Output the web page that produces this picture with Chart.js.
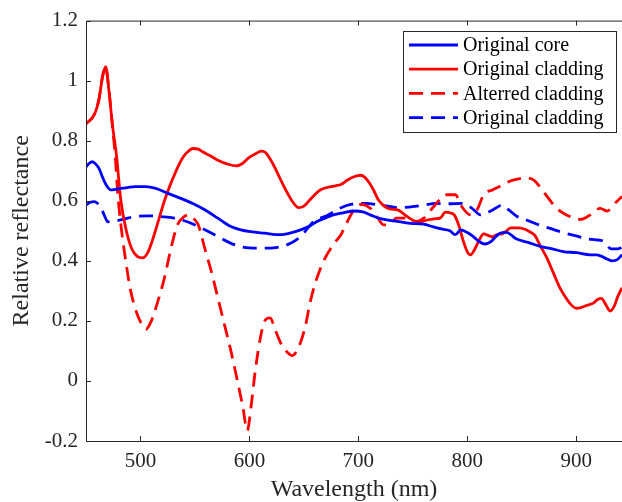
<!DOCTYPE html>
<html>
<head>
<meta charset="utf-8">
<script src="https://cdn.jsdelivr.net/npm/chart.js@4/dist/chart.umd.min.js"></script>
<style>
html, body { margin: 0; padding: 0; background: #fff; overflow: hidden; }
</style>
</head>
<body>
<canvas id="spectra-chart" width="622" height="502"></canvas>
<script>
// Reflectance spectra (wavelength in nm, relative reflectance)

const xTickValues = [500, 600, 700, 800, 900];

const coreX = [450, 453, 456, 459, 462, 465, 467, 470, 473, 477, 482, 488, 495, 505, 514, 525, 537, 548, 559, 571, 583, 592, 601, 614, 628, 638, 647, 655, 662, 670, 677, 686, 696, 705, 711, 717, 725, 732, 740, 748, 760, 768, 775, 784, 789, 794, 800, 805, 809, 816, 822, 826, 830, 836, 840, 844, 850, 855, 867, 878, 888, 900, 913, 919, 926, 933, 938, 942];
const coreY = [0.712, 0.725, 0.73, 0.722, 0.707, 0.68, 0.663, 0.645, 0.636, 0.638, 0.641, 0.644, 0.647, 0.647, 0.641, 0.625, 0.608, 0.591, 0.57, 0.542, 0.514, 0.503, 0.497, 0.492, 0.487, 0.493, 0.503, 0.515, 0.531, 0.543, 0.553, 0.56, 0.566, 0.562, 0.553, 0.544, 0.537, 0.533, 0.529, 0.525, 0.522, 0.514, 0.507, 0.5, 0.487, 0.503, 0.494, 0.482, 0.47, 0.456, 0.465, 0.48, 0.492, 0.495, 0.487, 0.475, 0.467, 0.462, 0.448, 0.44, 0.431, 0.427, 0.42, 0.42, 0.41, 0.4, 0.405, 0.42];

const claddingX = [450, 458, 462, 465, 468, 471, 474, 478, 482, 487, 492, 497, 502, 507, 512, 517, 522, 527, 531, 536, 540, 544, 548, 553, 557, 564, 571, 580, 588, 594, 599, 605, 611, 615, 622, 628, 635, 640, 645, 650, 654, 660, 665, 672, 679, 684, 690, 696, 702, 706, 710, 714, 718, 722, 726, 730, 736, 741, 745, 750, 754, 758, 763, 770, 775, 780, 784, 788, 792, 796, 800, 803, 807, 811, 815, 819, 823, 828, 832, 836, 840, 847, 853, 858, 862, 867, 873, 879, 885, 890, 895, 900, 905, 910, 916, 920, 923, 927, 931, 935, 938, 942];
const claddingY = [0.856, 0.89, 0.94, 1.01, 1.047, 0.97, 0.86, 0.75, 0.6, 0.5, 0.44, 0.415, 0.41, 0.43, 0.48, 0.54, 0.6, 0.65, 0.685, 0.725, 0.75, 0.765, 0.774, 0.772, 0.763, 0.75, 0.735, 0.722, 0.716, 0.725, 0.742, 0.755, 0.765, 0.76, 0.72, 0.675, 0.625, 0.595, 0.577, 0.582, 0.597, 0.62, 0.636, 0.645, 0.65, 0.654, 0.669, 0.68, 0.685, 0.678, 0.66, 0.635, 0.605, 0.588, 0.577, 0.572, 0.57, 0.558, 0.547, 0.535, 0.525, 0.53, 0.536, 0.54, 0.542, 0.562, 0.56, 0.553, 0.52, 0.47, 0.43, 0.42, 0.44, 0.47, 0.49, 0.485, 0.48, 0.488, 0.49, 0.5, 0.51, 0.51, 0.505, 0.495, 0.485, 0.45, 0.41, 0.36, 0.31, 0.28, 0.255, 0.242, 0.245, 0.252, 0.26, 0.272, 0.275, 0.255, 0.233, 0.25, 0.28, 0.31];

const alteredX = [450, 458, 462, 465, 468, 471, 474, 477, 479, 482, 487, 491, 497, 501, 505, 510, 516, 522, 528, 534, 540, 545, 549, 553, 559, 565, 571, 577, 583, 589, 594, 598, 602, 605, 608, 612, 615, 619, 624, 630, 635, 639, 645, 651, 656, 661, 668, 677, 684, 690, 696, 703, 711, 718, 723, 728, 735, 745, 754, 760, 769, 775, 780, 789, 795, 803, 809, 815, 823, 832, 839, 846, 853, 861, 870, 882, 891, 904, 913, 922, 928, 937, 942];
const alteredY = [0.856, 0.89, 0.94, 1.01, 1.047, 0.97, 0.86, 0.74, 0.63, 0.52, 0.387, 0.3, 0.222, 0.19, 0.172, 0.2, 0.266, 0.343, 0.442, 0.52, 0.547, 0.553, 0.54, 0.52, 0.442, 0.365, 0.277, 0.189, 0.1, 0.0, -0.087, -0.165, -0.07, 0.023, 0.1, 0.177, 0.205, 0.21, 0.167, 0.117, 0.095, 0.084, 0.111, 0.177, 0.266, 0.332, 0.398, 0.454, 0.487, 0.531, 0.57, 0.588, 0.575, 0.542, 0.52, 0.52, 0.542, 0.542, 0.531, 0.542, 0.58, 0.605, 0.62, 0.62, 0.58, 0.553, 0.57, 0.62, 0.636, 0.652, 0.665, 0.672, 0.676, 0.669, 0.63, 0.575, 0.553, 0.538, 0.553, 0.575, 0.566, 0.597, 0.614];

const cladding2X = [450, 454, 458, 461, 464, 467, 470, 475, 482, 494, 507, 519, 531, 543, 556, 571, 586, 600, 614, 624, 635, 647, 659, 671, 683, 693, 706, 723, 738, 757, 772, 785, 795, 800, 806, 812, 819, 826, 832, 838, 846, 855, 864, 876, 888, 900, 910, 918, 925, 932, 938, 942];
const cladding2Y = [0.586, 0.595, 0.597, 0.59, 0.575, 0.55, 0.53, 0.532, 0.536, 0.547, 0.55, 0.547, 0.542, 0.53, 0.509, 0.481, 0.454, 0.443, 0.442, 0.444, 0.454, 0.481, 0.531, 0.55, 0.575, 0.588, 0.591, 0.584, 0.577, 0.584, 0.591, 0.59, 0.591, 0.586, 0.57, 0.553, 0.562, 0.575, 0.586, 0.57, 0.547, 0.535, 0.522, 0.508, 0.494, 0.483, 0.473, 0.47, 0.465, 0.44, 0.44, 0.445];

const seriesLabels = ['Original core', 'Original cladding', 'Alterred cladding', 'Original cladding'];

const serif = '"Liberation Serif", "Times New Roman", serif';
const axisColor = '#262626';
const dash = [14, 8];

function toPoints(xs, ys) {
    return xs.map((x, i) => ({ x: x, y: ys[i] }));
}

// MATLAB-style box with inward ticks
const boxTicks = {
    id: 'boxTicks',
    afterDraw(chart) {
        const ctx = chart.ctx;
        const a = chart.chartArea;
        const xs = chart.scales.x;
        const ys = chart.scales.y;
        ctx.save();
        ctx.strokeStyle = axisColor;
        ctx.lineWidth = 1;
        ctx.beginPath();
        ctx.moveTo(a.left + 0.5, a.top + 0.5);
        ctx.lineTo(a.left + 0.5, a.bottom + 0.5);
        ctx.lineTo(a.right, a.bottom + 0.5);
        ctx.moveTo(a.left + 0.5, a.top + 0.5);
        ctx.lineTo(a.right, a.top + 0.5);
        xs.ticks.forEach(t => {
            const px = Math.round(xs.getPixelForValue(t.value)) + 0.5;
            ctx.moveTo(px, a.bottom);
            ctx.lineTo(px, a.bottom - 5);
            ctx.moveTo(px, a.top);
            ctx.lineTo(px, a.top + 5);
        });
        ys.ticks.forEach(t => {
            const py = Math.round(ys.getPixelForValue(t.value)) + 0.5;
            ctx.moveTo(a.left, py);
            ctx.lineTo(a.left + 5, py);
        });
        ctx.stroke();
        ctx.restore();
    }
};

// Legend box in the top right corner
const boxLegend = {
    id: 'boxLegend',
    afterDraw(chart) {
        const ctx = chart.ctx;
        const left = 403.5, top = 31.5, w = 213, h = 101;
        ctx.save();
        ctx.fillStyle = '#fff';
        ctx.fillRect(left, top, w, h);
        ctx.strokeStyle = axisColor;
        ctx.lineWidth = 1;
        ctx.strokeRect(left, top, w, h);
        ctx.font = '20px ' + serif;
        ctx.textBaseline = 'middle';
        chart.data.datasets.forEach((ds, i) => {
            const y = 45 + i * 24.2;
            ctx.strokeStyle = ds.borderColor;
            ctx.lineWidth = ds.borderWidth;
            ctx.setLineDash(ds.borderDash || []);
            ctx.beginPath();
            ctx.moveTo(409, y);
            ctx.lineTo(458, y);
            ctx.stroke();
            ctx.setLineDash([]);
            ctx.fillStyle = '#000';
            ctx.fillText(ds.label, 463, y + 1);
        });
        ctx.restore();
    }
};

document.addEventListener('DOMContentLoaded', function() {
    const canvas = document.getElementById('spectra-chart').getContext('2d');

    const common = {
        borderWidth: 2.8,
        pointRadius: 0,
        fill: false,
        cubicInterpolationMode: 'monotone'
    };

    const chartData = {
        datasets: [
            Object.assign({ label: seriesLabels[0], data: toPoints(coreX, coreY), borderColor: '#0000ff' }, common),
            Object.assign({ label: seriesLabels[1], data: toPoints(claddingX, claddingY), borderColor: '#ff0000' }, common),
            Object.assign({ label: seriesLabels[2], data: toPoints(alteredX, alteredY), borderColor: '#ff0000', borderDash: dash }, common),
            Object.assign({ label: seriesLabels[3], data: toPoints(cladding2X, cladding2Y), borderColor: '#0000ff', borderDash: dash }, common)
        ]
    };

    new Chart(canvas, {
        type: 'line',
        data: chartData,
        options: {
            responsive: false,
            animation: false,
            devicePixelRatio: 1,
            layout: { padding: { top: 18, left: 0, right: 0, bottom: 0 } },
            plugins: {
                legend: { display: false },
                tooltip: { enabled: false }
            },
            scales: {
                x: {
                    type: 'linear',
                    min: 450,
                    max: 942,
                    grid: { display: false, drawTicks: false },
                    border: { display: false },
                    afterBuildTicks: s => { s.ticks = xTickValues.map(v => ({ value: v })); },
                    ticks: {
                        padding: 8,
                        color: axisColor,
                        font: { family: serif, size: 21 },
                        maxRotation: 0,
                        autoSkip: false
                    },
                    title: {
                        display: true,
                        text: 'Wavelength (nm)',
                        color: axisColor,
                        font: { family: serif, size: 24 },
                        padding: { top: 0, bottom: -2 }
                    },
                    afterFit: s => { s.height = 61; s.paddingRight = 0; }
                },
                y: {
                    min: -0.2,
                    max: 1.2,
                    grid: { display: false, drawTicks: false },
                    border: { display: false },
                    ticks: {
                        stepSize: 0.2,
                        padding: 8,
                        color: axisColor,
                        font: { family: serif, size: 21 },
                        callback: v => String(Math.round(v * 10) / 10)
                    },
                    title: {
                        display: true,
                        text: 'Relative reflectance',
                        color: axisColor,
                        font: { family: serif, size: 24 },
                        padding: { top: 7, bottom: 0 }
                    },
                    afterFit: s => { s.width = 86; }
                }
            }
        },
        plugins: [boxTicks, boxLegend]
    });
});
</script>
</body>
</html>
